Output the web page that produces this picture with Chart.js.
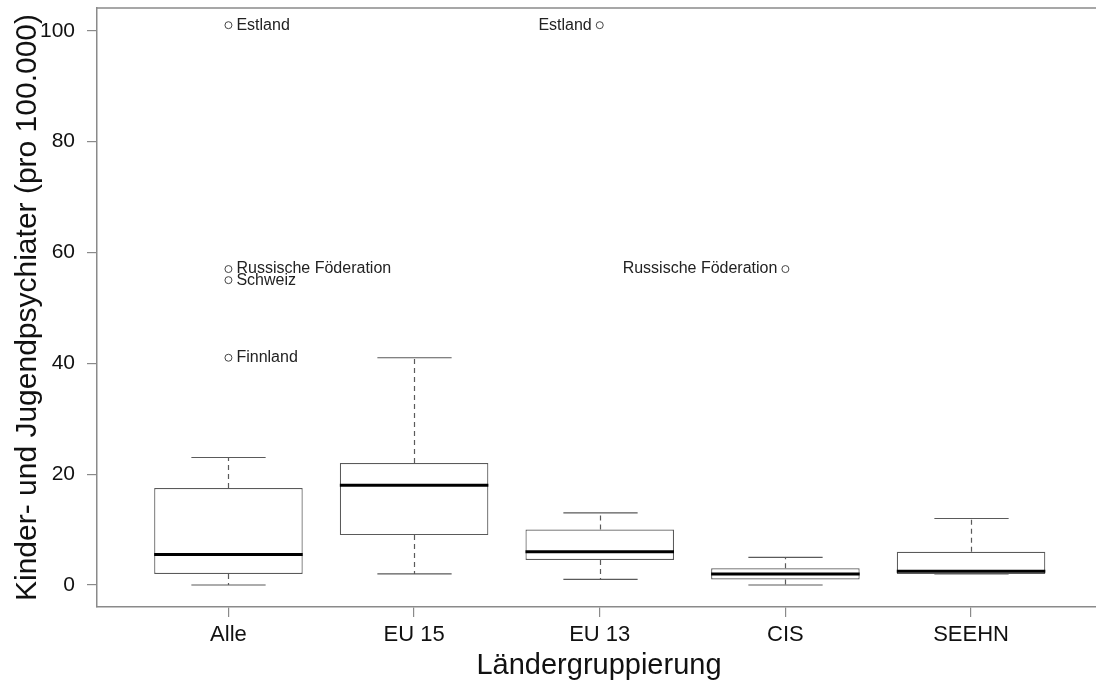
<!DOCTYPE html>
<html>
<head>
<meta charset="utf-8">
<script src="https://cdn.jsdelivr.net/npm/chart.js@4.4.1/dist/chart.umd.min.js"></script>
<style>
  html, body { margin: 0; padding: 0; background: #fff; overflow: hidden; }
  #wrap { width: 1096px; height: 688px; overflow: hidden; }
</style>
</head>
<body>
<div id="wrap"><canvas id="boxChart" width="1106" height="688"></canvas></div>
<script>
// Ländergruppen und Boxplot-Kennwerte (pro 100.000)
const categories = ['Alle', 'EU 15', 'EU 13', 'CIS', 'SEEHN'];
const whiskerLow = [0, 2, 1, 0, 2];
const lowerQuartile = [2, 9, 4.5, 1, 2];
const medians = [5.5, 18, 6, 2, 2.5];
const upperQuartile = [17.5, 22, 10, 3, 6];
const whiskerHigh = [23, 41, 13, 5, 12];

// Ausreißer: Gruppe (Index in categories), Wert, Land
const outlierGroup = [0, 0, 0, 0, 2, 3];
const outlierValue = [101, 57, 55, 41, 101, 57];
const outlierName = ['Estland', 'Russische Föderation', 'Schweiz', 'Finnland', 'Estland', 'Russische Föderation'];

const yTicks = [0, 20, 40, 60, 80, 100];

const FONT = '"Liberation Sans", Arial, sans-serif';
const frameColor = '#8a8a8a';
const boxColor = '#5a5a5a';

const boxData = categories.map((c, i) => ({ x: i + 1, y: [lowerQuartile[i], upperQuartile[i]] }));
const outlierData = outlierValue.map((v, i) => ({ x: outlierGroup[i] + 1, y: v }));

// Whisker (gestrichelt) + Endstriche hinter den Boxen, Median darüber
const boxplotParts = {
    id: 'boxplotParts',
    beforeDatasetsDraw(chart) {
        const ctx = chart.ctx;
        const y = chart.scales.y;
        const bars = chart.getDatasetMeta(0).data;
        ctx.save();
        ctx.strokeStyle = boxColor;
        ctx.lineWidth = 1.2;
        bars.forEach((bar, i) => {
            const cx = Math.round(bar.x) + 0.5;
            const half = bar.width / 4;
            ctx.setLineDash([5, 4]);
            ctx.beginPath();
            ctx.moveTo(cx, y.getPixelForValue(upperQuartile[i]));
            ctx.lineTo(cx, y.getPixelForValue(whiskerHigh[i]));
            ctx.moveTo(cx, y.getPixelForValue(lowerQuartile[i]));
            ctx.lineTo(cx, y.getPixelForValue(whiskerLow[i]));
            ctx.stroke();
            ctx.setLineDash([]);
            ctx.beginPath();
            [whiskerHigh[i], whiskerLow[i]].forEach(v => {
                const py = y.getPixelForValue(v);
                ctx.moveTo(cx - half, py);
                ctx.lineTo(cx + half, py);
            });
            ctx.stroke();
        });
        ctx.restore();
    },
    afterDatasetsDraw(chart) {
        const ctx = chart.ctx;
        const y = chart.scales.y;
        const bars = chart.getDatasetMeta(0).data;
        ctx.save();
        ctx.strokeStyle = '#000';
        ctx.lineWidth = 3;
        bars.forEach((bar, i) => {
            const py = y.getPixelForValue(medians[i]);
            ctx.beginPath();
            ctx.moveTo(bar.x - bar.width / 2, py);
            ctx.lineTo(bar.x + bar.width / 2, py);
            ctx.stroke();
        });

        // Beschriftung der Ausreißer
        const pts = chart.getDatasetMeta(1).data;
        ctx.fillStyle = '#222';
        ctx.font = '16px ' + FONT;
        ctx.textBaseline = 'middle';
        pts.forEach((p, i) => {
            if (outlierGroup[i] === 0) {
                ctx.textAlign = 'left';
                ctx.fillText(outlierName[i], p.x + 8, p.y);
            } else {
                ctx.textAlign = 'right';
                ctx.fillText(outlierName[i], p.x - 8, p.y);
            }
        });

        // obere Rahmenlinie
        const a = chart.chartArea;
        ctx.strokeStyle = frameColor;
        ctx.lineWidth = 1.5;
        ctx.beginPath();
        ctx.moveTo(a.left, a.top);
        ctx.lineTo(a.right, a.top);
        ctx.stroke();
        ctx.restore();
    }
};

const ctx = document.getElementById('boxChart').getContext('2d');
new Chart(ctx, {
    type: 'bar',
    data: {
        datasets: [{
            type: 'bar',
            data: boxData,
            backgroundColor: '#ffffff',
            borderColor: boxColor,
            borderWidth: 1.2,
            borderSkipped: false,
            categoryPercentage: 1,
            barPercentage: 0.8
        }, {
            type: 'scatter',
            data: outlierData,
            pointStyle: 'circle',
            pointRadius: 3.5,
            pointBorderWidth: 1,
            pointBorderColor: '#444',
            pointBackgroundColor: '#fff'
        }]
    },
    options: {
        responsive: false,
        animation: false,
        events: [],
        layout: { padding: { top: 8, right: 0, left: 0, bottom: 0 } },
        plugins: {
            legend: { display: false },
            tooltip: { enabled: false }
        },
        scales: {
            x: {
                type: 'linear',
                offset: false,
                min: 0.292,
                max: 5.7,
                afterBuildTicks: s => { s.ticks = categories.map((c, i) => ({ value: i + 1 })); },
                afterFit: s => { s.height = 81; s.paddingLeft = 0; s.paddingRight = 0; },
                ticks: {
                    autoSkip: false,
                    maxRotation: 0,
                    padding: 5,
                    color: '#111',
                    font: { family: FONT, size: 22 },
                    callback: v => categories[v - 1]
                },
                grid: { offset: false, drawOnChartArea: false, drawTicks: true, tickLength: 10, color: frameColor, lineWidth: 1.2 },
                border: { display: true, color: frameColor, width: 1.5 },
                title: {
                    display: true,
                    text: 'Ländergruppierung',
                    color: '#111',
                    font: { family: FONT, size: 29 },
                    padding: { top: 0, bottom: 5 }
                }
            },
            y: {
                min: -3.97,
                max: 104.1,
                afterBuildTicks: s => { s.ticks = yTicks.map(v => ({ value: v })); },
                afterFit: s => { s.width = 97; s.paddingTop = 0; s.paddingBottom = 0; },
                ticks: {
                    padding: 12,
                    color: '#111',
                    font: { family: FONT, size: 21 }
                },
                grid: { drawOnChartArea: false, drawTicks: true, tickLength: 10, color: frameColor, lineWidth: 1.2 },
                border: { display: true, color: frameColor, width: 1.5 },
                title: {
                    display: true,
                    text: 'Kinder- und Jugendpsychiater (pro 100.000)',
                    color: '#111',
                    font: { family: FONT, size: 30 },
                    padding: { top: 10, bottom: 0 }
                }
            }
        }
    },
    plugins: [boxplotParts]
});
</script>
</body>
</html>
